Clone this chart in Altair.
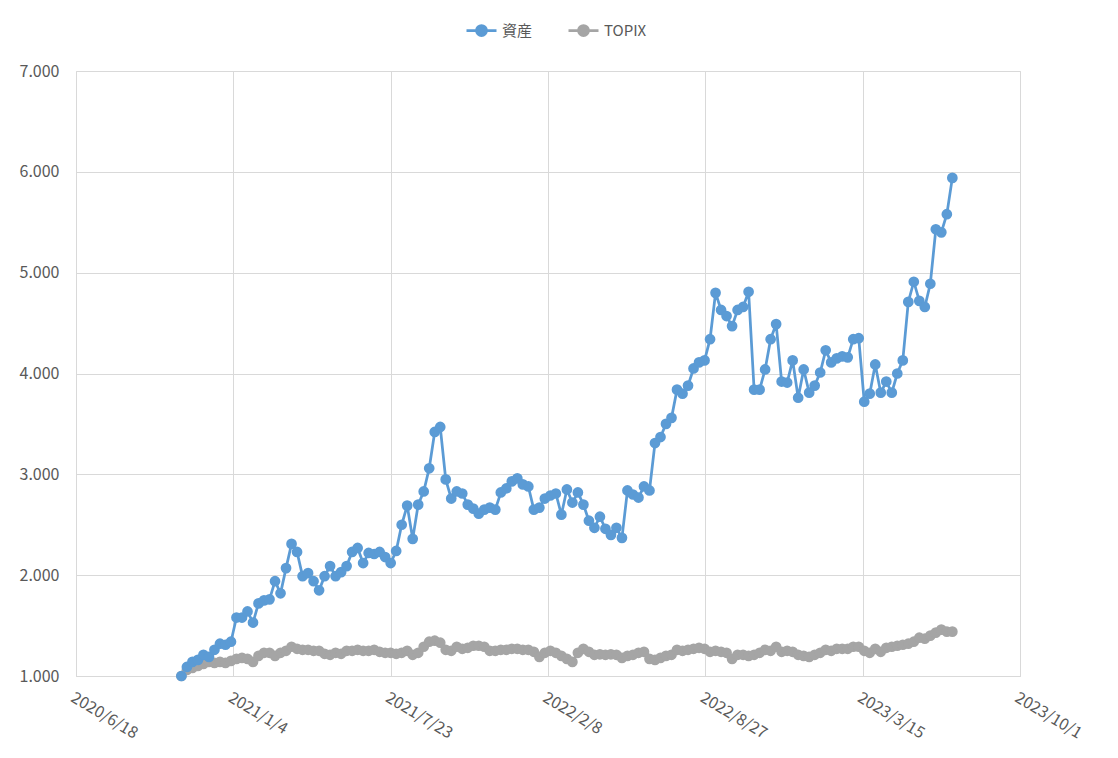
import altair as alt
import pandas as pd

start_date = "2020-10-30"

asset = [1000, 1090, 1140, 1160, 1210, 1190, 1260, 1320, 1310, 1340,
         1580, 1580, 1640, 1530, 1720, 1750, 1760, 1940, 1820, 2070,
         2310, 2230, 1990, 2020, 1940, 1850, 1990, 2090, 1990, 2030,
         2090, 2230, 2270, 2120, 2220, 2210, 2230, 2180, 2120, 2240,
         2500, 2690, 2360, 2700, 2830, 3060, 3420, 3470, 2950, 2760,
         2830, 2810, 2700, 2660, 2610, 2650, 2670, 2650, 2820, 2860,
         2930, 2960, 2900, 2880, 2650, 2670, 2760, 2790, 2810, 2600,
         2850, 2720, 2820, 2700, 2540, 2470, 2580, 2460, 2400, 2470,
         2370, 2840, 2800, 2770, 2880, 2840, 3310, 3370, 3500, 3560,
         3840, 3800, 3880, 4050, 4110, 4130, 4340, 4800, 4630, 4570,
         4470, 4630, 4660, 4810, 3840, 3840, 4040, 4340, 4490, 3920,
         3910, 4130, 3760, 4040, 3810, 3880, 4010, 4230, 4110, 4150,
         4170, 4160, 4340, 4350, 3720, 3800, 4090, 3810, 3920, 3810,
         4000, 4130, 4710, 4910, 4720, 4660, 4890, 5430, 5400, 5580,
         5940]

topix = [1000, 1060, 1080, 1100, 1120, 1140, 1130, 1140, 1130, 1150,
         1170, 1180, 1170, 1140, 1200, 1230, 1230, 1200, 1230, 1250,
         1290, 1270, 1260, 1260, 1250, 1250, 1220, 1210, 1230, 1220,
         1250, 1250, 1260, 1250, 1250, 1260, 1240, 1230, 1230, 1220,
         1230, 1250, 1210, 1230, 1290, 1340, 1350, 1330, 1260, 1250,
         1290, 1270, 1280, 1300, 1300, 1290, 1250, 1250, 1260, 1260,
         1270, 1270, 1260, 1260, 1240, 1190, 1230, 1250, 1230, 1200,
         1170, 1140, 1230, 1270, 1240, 1210, 1215, 1210, 1215, 1210,
         1180, 1200, 1210, 1230, 1240, 1170, 1160, 1180, 1200, 1210,
         1260, 1250, 1260, 1270, 1280, 1270, 1240, 1250, 1240, 1230,
         1170, 1210, 1210, 1200, 1210, 1230, 1260, 1250, 1290, 1240,
         1250, 1240, 1210, 1200, 1190, 1210, 1230, 1260, 1250, 1270,
         1270, 1270, 1290, 1290, 1250, 1230, 1270, 1240, 1280, 1290,
         1300, 1310, 1320, 1340, 1380, 1370, 1400, 1430, 1460, 1440,
         1440]

series_names = ["資産", "TOPIX"]
series_colors = ["#5B9BD5", "#A5A5A5"]

x_ticks = ["2020-06-18", "2021-01-04", "2021-07-23", "2022-02-08",
           "2022-08-27", "2023-03-15", "2023-10-01"]
y_ticks = [1000, 2000, 3000, 4000, 5000, 6000, 7000]

dates = pd.date_range(start_date, periods=len(asset), freq="7D")
df = pd.concat([
    pd.DataFrame({"date": dates, "value": asset, "series": series_names[0]}),
    pd.DataFrame({"date": dates, "value": topix, "series": series_names[1]}),
])
df["date"] = df["date"].dt.strftime("%Y-%m-%d")
df["order"] = df["series"].map({series_names[0]: 1, series_names[1]: 0})

x_tick_dt = [alt.DateTime(year=int(d[:4]), month=int(d[5:7]), date=int(d[8:10])) for d in x_ticks]

font = "Noto Sans CJK JP"
label_color = "#595959"
grid_color = "#D9D9D9"

legend_symbol = "M-3,0L-1,0M1,0L3,0M1,0A1,1 0 1,1 -1,0A1,1 0 1,1 1,0Z"

chart = alt.Chart(df).mark_line(
    strokeWidth=2.75,
    point=alt.OverlayMarkDef(filled=True, size=115, opacity=1),
).encode(
    x=alt.X("date:T",
            scale=alt.Scale(domain=[alt.DateTime(year=2020, month=6, date=18),
                                    alt.DateTime(year=2023, month=10, date=1)]),
            axis=alt.Axis(values=x_tick_dt, title=None,
                          labelExpr="timeFormat(datum.value, '%Y/%-m/%-d')",
                          labelAngle=31, labelAlign="left", labelBaseline="top",
                          labelPadding=13, labelFontSize=16, labelColor=label_color,
                          labelFont=font, ticks=False, domainColor=grid_color,
                          domainWidth=1, gridColor=grid_color, grid=True,
                          labelOverlap=False, labelBound=False, labelFlush=False)),
    y=alt.Y("value:Q",
            scale=alt.Scale(domain=[1000, 7000], nice=False, zero=False),
            axis=alt.Axis(values=y_ticks, title=None,
                          labelExpr="replace(format(datum.value, ','), ',', '.')",
                          labelFontSize=16, labelColor=label_color, labelFont=font,
                          ticks=False, domain=False, gridColor=grid_color,
                          labelPadding=17)),
    color=alt.Color("series:N",
                    scale=alt.Scale(domain=series_names, range=series_colors),
                    legend=alt.Legend(title=None, orient="none", direction="horizontal",
                                      legendX=398, legendY=-48,
                                      symbolType=legend_symbol, symbolSize=100,
                                      symbolStrokeWidth=2.75, labelFontSize=15,
                                      labelColor=label_color, labelFont=font,
                                      labelOffset=13, columnPadding=30)),
    order=alt.Order("order:Q"),
).properties(
    width=944, height=605,
    padding={"left": 68, "top": 63, "right": 82, "bottom": 73},
    autosize=alt.AutoSizeParams(type="none"),
).configure_view(stroke=None).configure(background="white")

chart.save("out.html", embed_options={"renderer": "svg", "actions": False})
